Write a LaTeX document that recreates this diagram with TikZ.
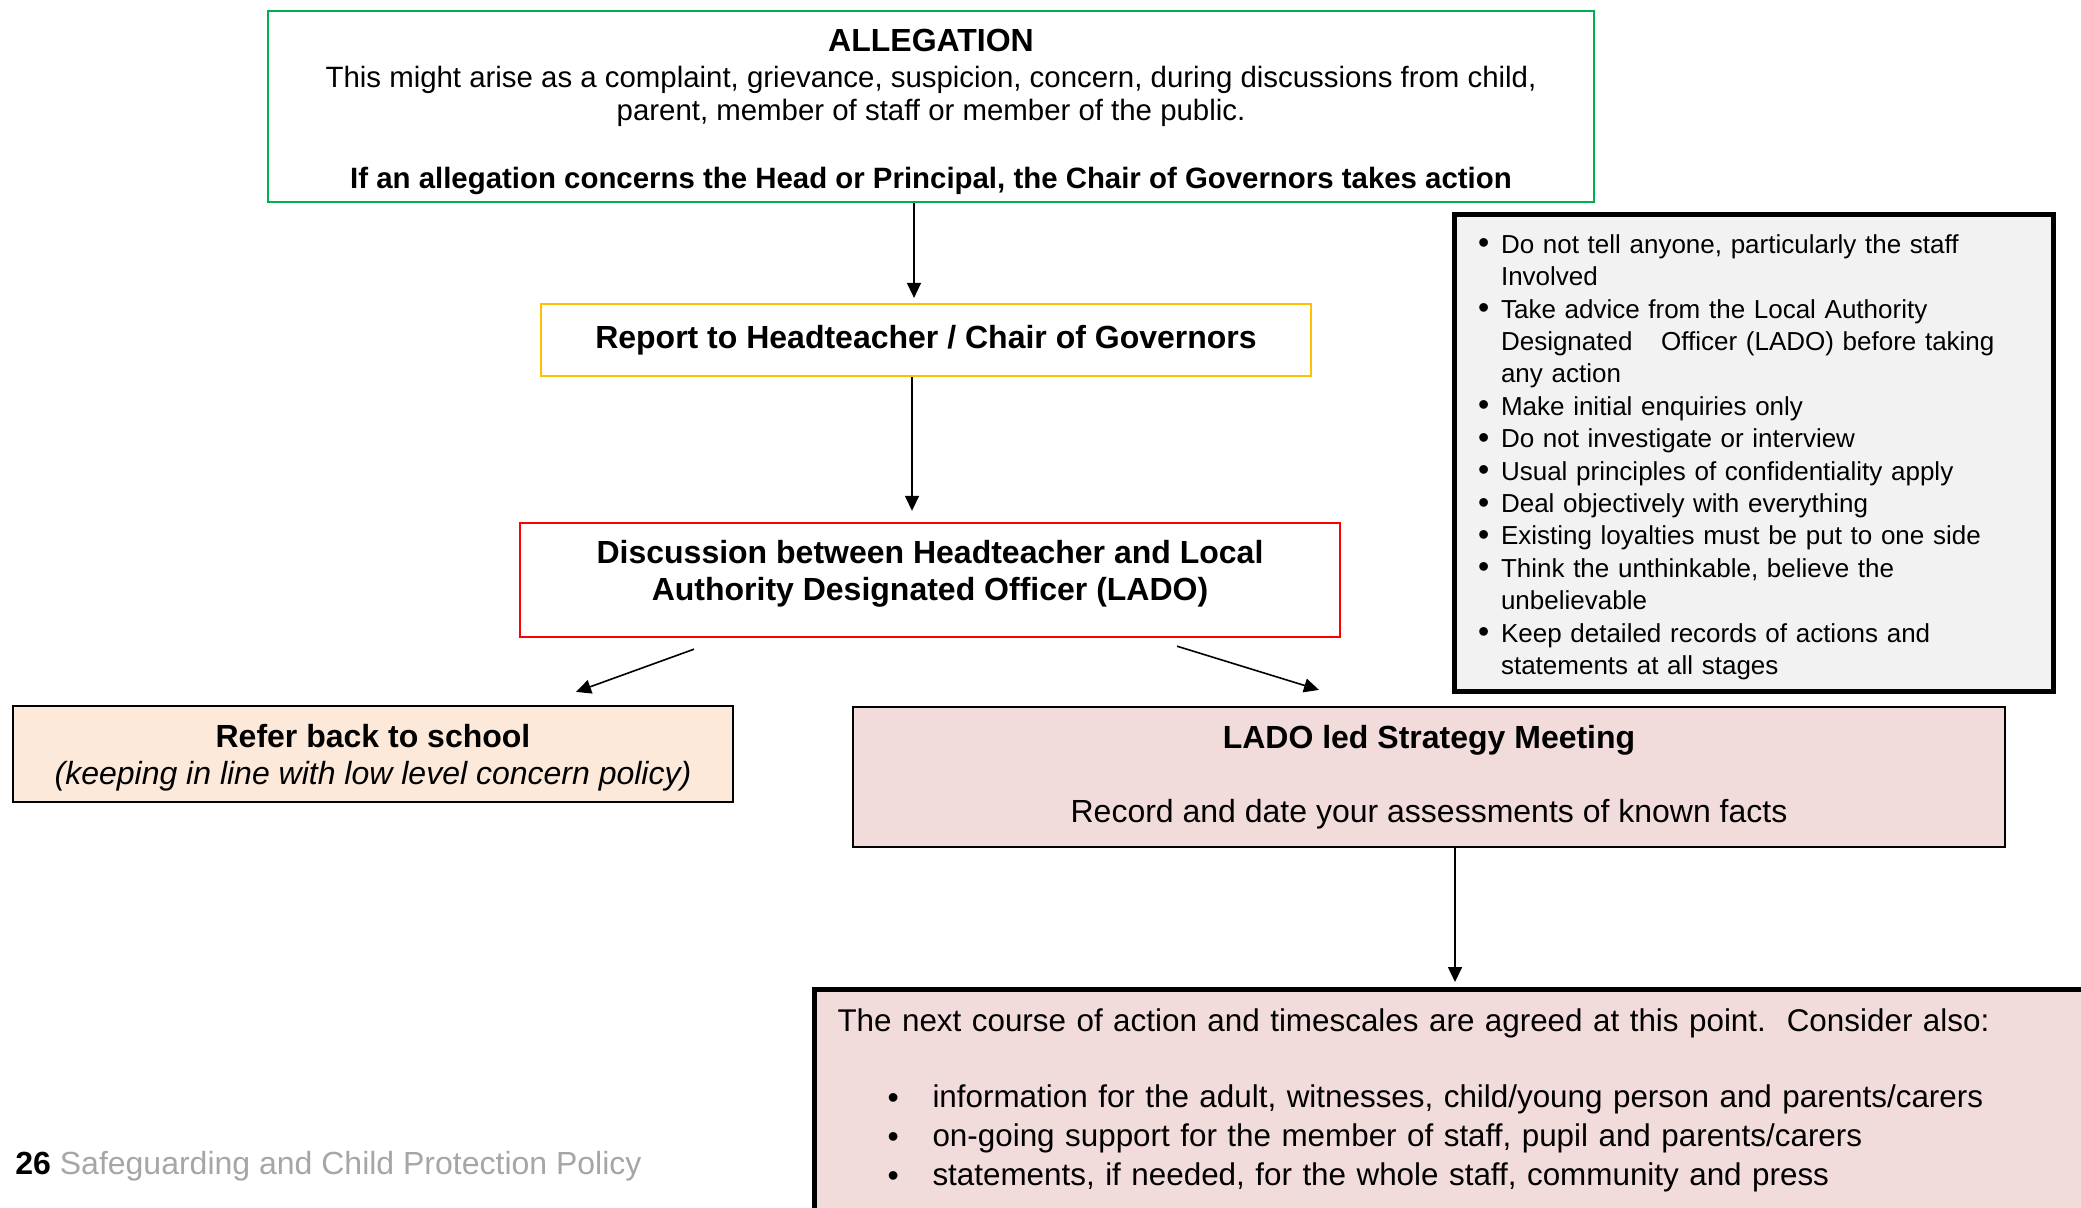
\documentclass[tikz,border=0pt]{standalone}
\usepackage{fontspec}
\setmainfont{Liberation Sans}
\usepackage{tikz}
\usetikzlibrary{arrows.meta}
\usepackage{xcolor}

\definecolor{allegreen}{RGB}{0,176,80}
\definecolor{reportyellow}{RGB}{255,192,0}
\definecolor{discred}{RGB}{255,0,0}
\definecolor{schoolpeach}{RGB}{253,233,217}
\definecolor{meetpink}{RGB}{242,220,219}
\definecolor{advicegrey}{RGB}{242,242,242}
\definecolor{footgrey}{RGB}{166,166,166}

\newcommand{\bigdot}{\raisebox{-0.05ex}{\fontsize{16}{16}\selectfont\textbullet}}
\newcommand{\bul}{\makebox[11.5pt][l]{\bigdot}}
\newcommand{\cont}{\hspace*{11.5pt}}
\newcommand{\wbul}{\hspace*{25pt}\makebox[22.5pt][l]{\bigdot}}

\begin{document}
\begin{tikzpicture}[x=0.5pt,y=-0.5pt]
  \tikzset{box/.style = {shape=rectangle,draw,line width=1.1pt,align=center,inner sep=0pt}}
  \tikzset{arr/.style = {-{Triangle[length=7.5pt,width=7pt]},line width=0.8pt}}
  \tikzset{big/.style = {font=\fontsize{16}{18.5}\selectfont}}

  \path[use as bounding box,clip] (0,0) rectangle (2081,1208);

	\node[box,draw=allegreen,line width=1.3pt,minimum width=663pt,minimum height=95.5pt,font=\fontsize{14.7}{16.5}\selectfont] (A) at (931,106.5)
	  {\rule{0pt}{16.2pt}{\fontsize{16}{18}\selectfont\bfseries ALLEGATION}\\[1.5pt]
	   This might arise as a complaint, grievance, suspicion, concern, during discussions from child,\\
	   parent, member of staff or member of the public.\\[17.5pt]
	   \textbf{If an allegation concerns the Head or Principal, the Chair of Governors takes action}};

	\node[box,big,draw=reportyellow,minimum width=385pt,minimum height=36pt] (R) at (926,340)
	  {\textbf{Report to Headteacher / Chair of Governors}};

	\node[box,big,draw=discred,line width=1.2pt,minimum width=410pt,minimum height=57pt] (D) at (930,580)
	  {\textbf{Discussion between Headteacher and Local}\\\textbf{Authority Designated Officer (LADO)}\rule[-9.5pt]{0pt}{0pt}};

	\node[box,big,fill=schoolpeach,minimum width=360pt,minimum height=48pt] (S) at (373,754)
	  {\rule{0pt}{15.7pt}\textbf{Refer back to school}\\\textit{(keeping in line with low level concern policy)}};

	\node[box,big,fill=meetpink,minimum width=576pt,minimum height=70pt] (M) at (1429,777)
	  {\textbf{LADO led Strategy Meeting}\\[18.5pt]Record and date your assessments of known facts};

	\node[box,fill=advicegrey,line width=2.5pt,minimum width=299.5pt,minimum height=238pt,
	      align=left,text width=275.5pt,inner xsep=12pt,font=\fontsize{13}{16.2}\selectfont] (G) at (1753.5,453)
	  {\rule{0pt}{13.5pt}\bul Do not tell anyone, particularly the staff\\
	   \cont Involved\\
	   \bul Take advice from the Local Authority\\
	   \cont Designated\hspace{1.1em}Officer (LADO) before taking\\
	   \cont any action\\
	   \bul Make initial enquiries only\\
	   \bul Do not investigate or interview\\
	   \bul Usual principles of confidentiality apply\\
	   \bul Deal objectively with everything\\
	   \bul Existing loyalties must be put to one side\\
	   \bul Think the unthinkable, believe the\\
	   \cont unbelievable\\
	   \bul Keep detailed records of actions and\\
	   \cont statements at all stages};

	\node[box,fill=meetpink,line width=2.5pt,anchor=north west,align=left,text width=640pt,
	      inner xsep=11.5pt,inner ysep=9.8pt,text depth=130pt,font=\fontsize{15.7}{19.5}\selectfont] (N) at (812,987)
	  {The next course of action and timescales are agreed at this point.\ \ Consider also:\\[18.5pt]
	   \wbul information for the adult, witnesses, child/young person and parents/carers\\
	   \wbul on-going support for the member of staff, pupil and parents/carers\\
	   \wbul statements, if needed, for the whole staff, community and press};

	\node[anchor=west,inner sep=0pt,font=\fontsize{16}{18}\selectfont] (F) at (15,1166)
	  {\textbf{26} \textcolor{footgrey}{Safeguarding and Child Protection Policy}};

    \draw[arr] ([shift={(-17,0)}]A.south) -- ([shift={(-12,-5)}]R.north);
    \draw[arr] ([shift={(-14,0)}]R.south) -- ([shift={(-18,-11)}]D.north);
    \draw[arr] ([shift={(-236,11)}]D.south) -- ([shift={(203,-13)}]S.north);
    \draw[arr] ([shift={(247,8)}]D.south) -- ([shift={(-110,-16)}]M.north);
    \draw[arr] ([shift={(26,0)}]M.south) -- ([shift={(643,-5)}]N.north west);

\end{tikzpicture}
\end{document}
